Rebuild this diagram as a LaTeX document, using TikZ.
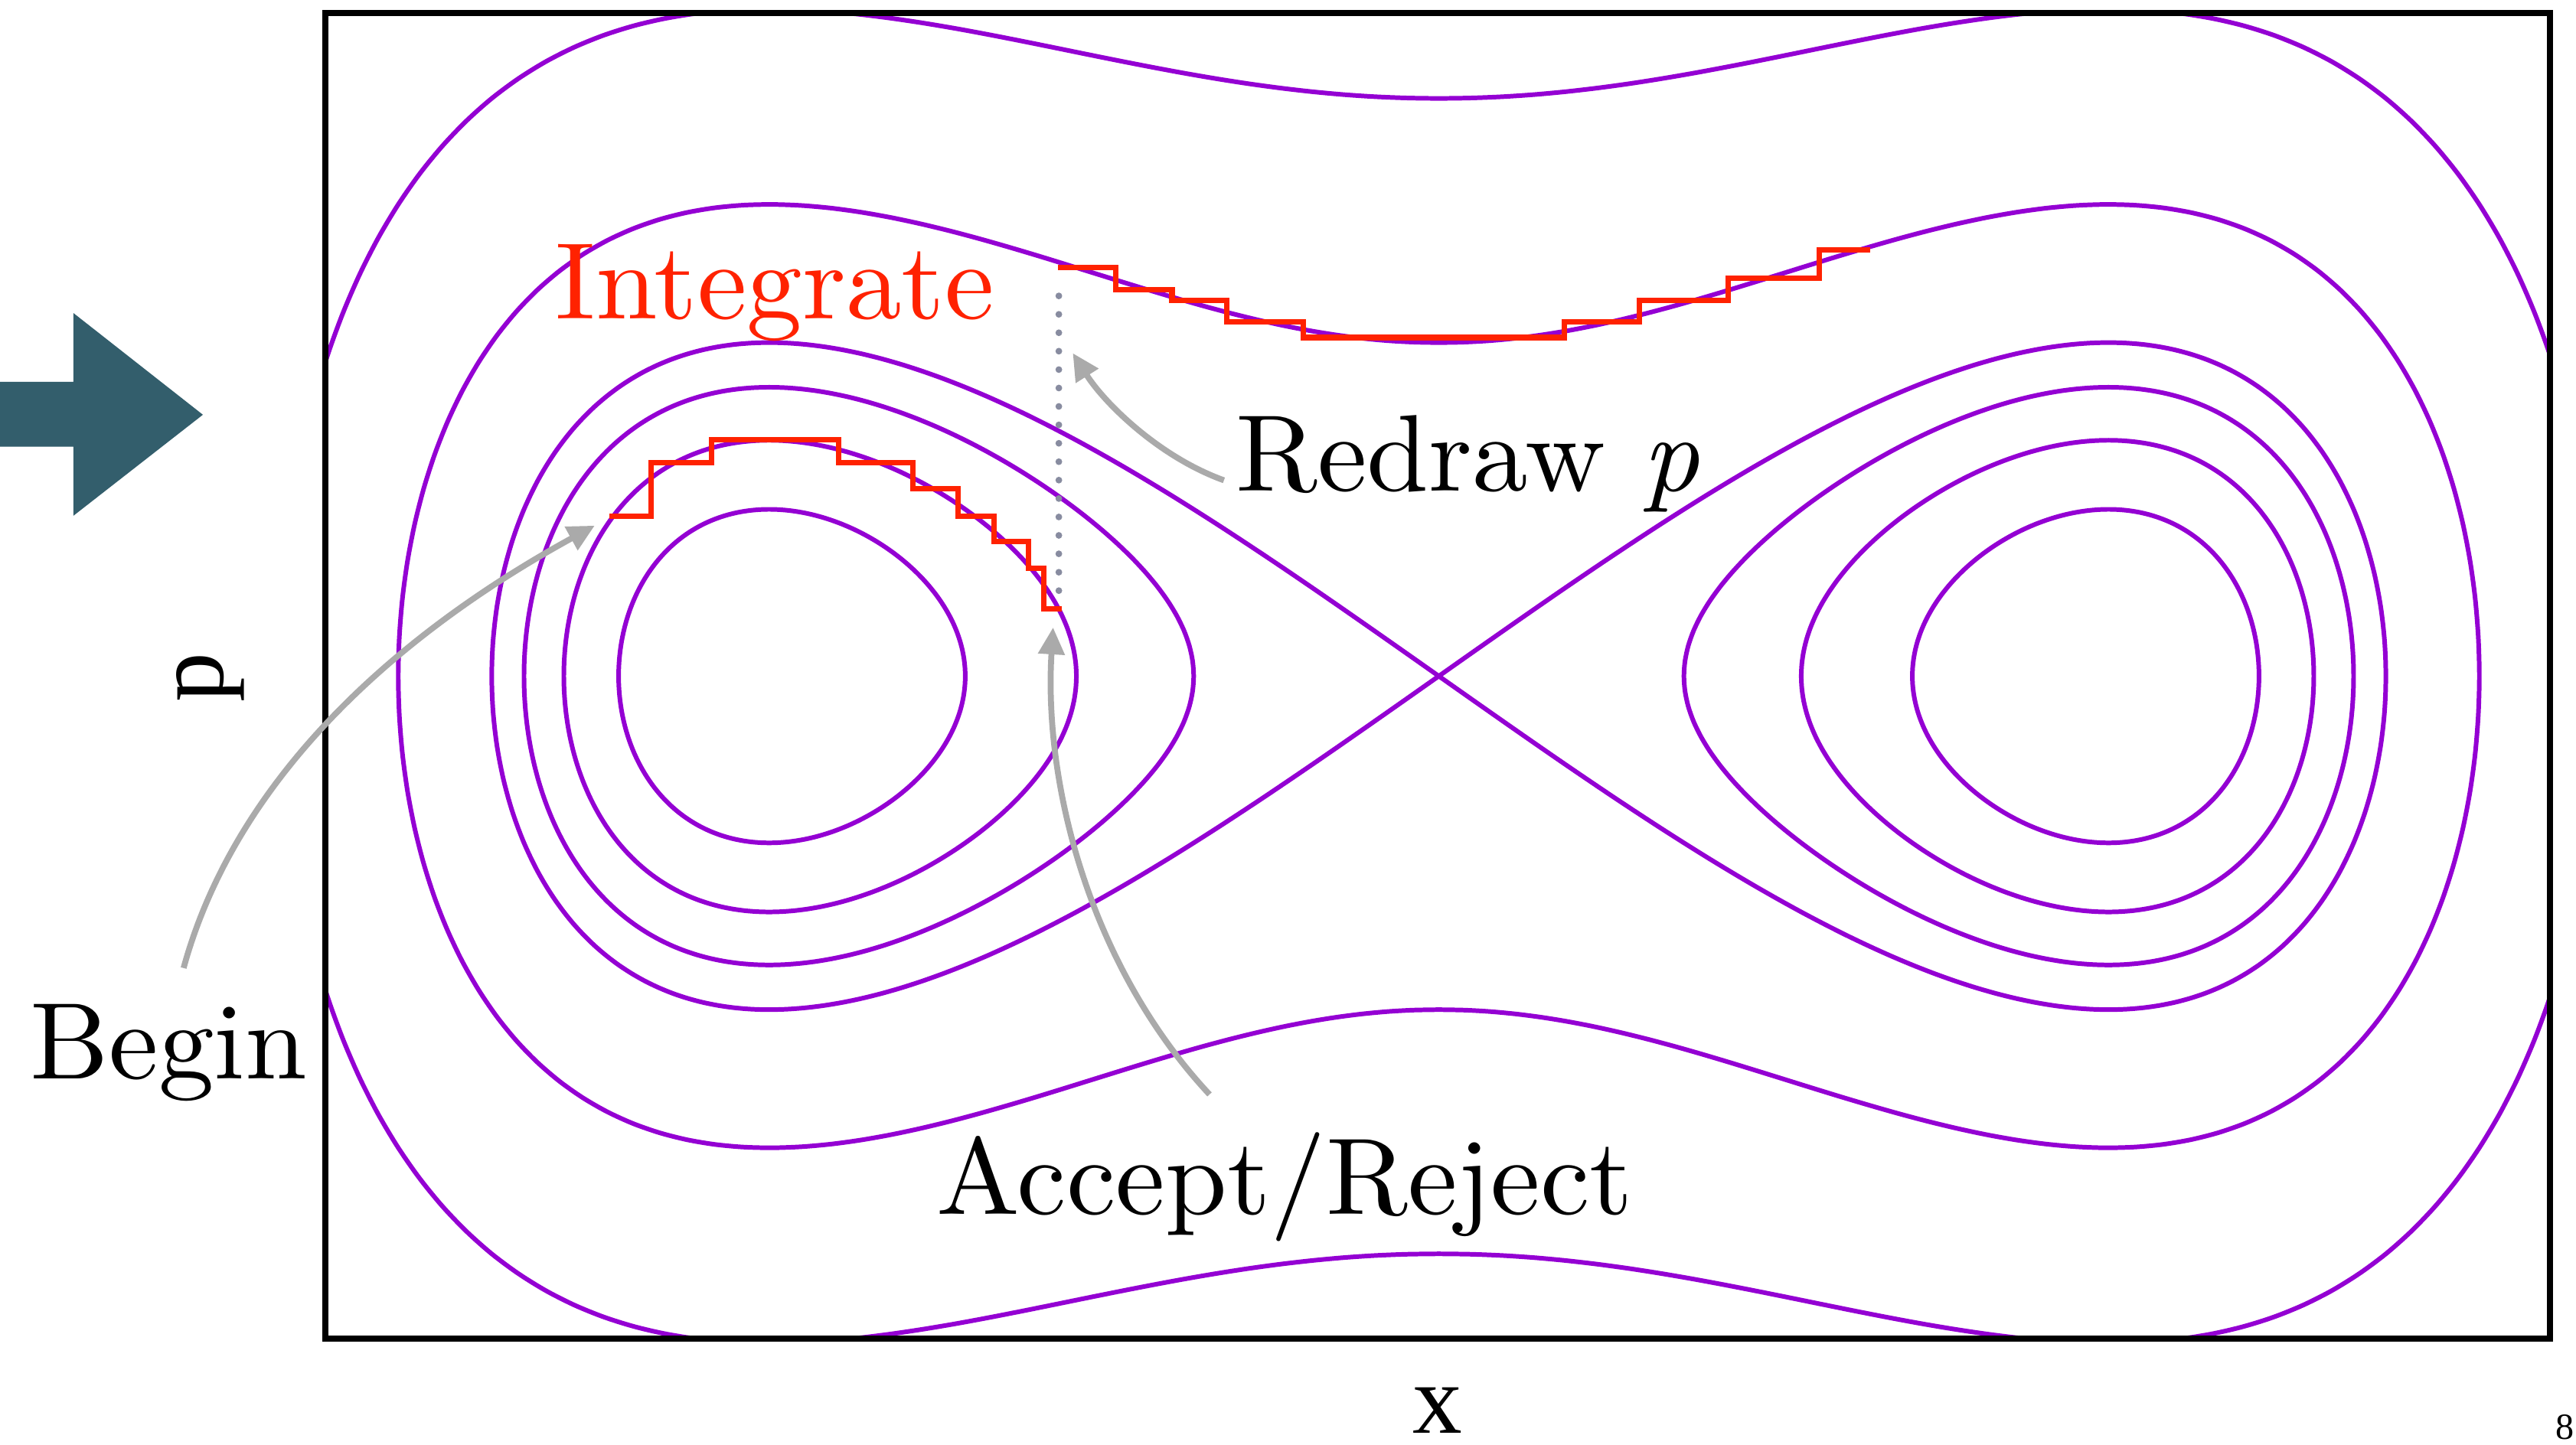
\documentclass[tikz,border=0pt]{standalone}
\usepackage{fontspec}
\newfontfamily\ejesfont{Liberation Serif}
\newfontfamily\rotulofont{lmroman10-regular.otf}[FakeStretch=1.02, ItalicFont=lmroman10-italic.otf]
\usetikzlibrary{arrows.meta, calc}
\definecolor{violeta}{RGB}{148,0,211}
\definecolor{rojo}{RGB}{255,34,0}
\definecolor{petroleo}{RGB}{51,94,108}
\definecolor{gris}{RGB}{170,170,170}
\definecolor{grispuntos}{RGB}{136,140,160}
\tikzset{
    orbita/.style={violeta, line width=1.7pt},
    integracion/.style={rojo, line width=2pt, line join=miter},
    flecha/.style={gris, line width=2.2pt, -{Triangle[length=10pt,width=9.5pt]}},
    rotulo/.style={anchor=base west, inner sep=0pt, font=\rotulofont\fontsize{40.5}{48}\selectfont},
    eje/.style={anchor=base, inner sep=0pt, font=\ejesfont\fontsize{36.8}{44}\selectfont},
}

\begin{document}
\begin{tikzpicture}[x=0.0214605cm, y=-0.0214605cm]
\useasboundingbox (0,0) rectangle (1568,879.3);
% flecha grande
\fill[petroleo] (0,232.5) -- (44.7,232.5) -- (44.7,190.6) -- (123.5,252.5) -- (44.7,314) -- (44.7,272) -- (0,272) -- cycle;
% curvas de nivel
\begin{scope}
\clip (198,8) rectangle (1552,815);
\begin{scope}[shift={(18.7887cm,-8.8310cm)}, x=8.7452cm, y=4.3565cm]
\foreach \rv in {0.5, 0.70711, 0.86603} {
  \draw[orbita] plot[smooth cycle, domain=0:357, samples=120] ({sqrt(1+\rv*cos(\x))}, {\rv*sin(\x)});
  \draw[orbita] plot[smooth cycle, domain=0:357, samples=120] ({-sqrt(1+\rv*cos(\x))}, {\rv*sin(\x)});
}
\draw[orbita] plot[smooth, domain=0:720, samples=241] ({1.41421*cos(\x/2)}, {sin(\x)});
\foreach \rv/\tv in {1.41421/135, 2/120} {
  \draw[orbita] plot[smooth, domain=-90:270, samples=181] ({(cos(\x)<0 ? -1 : 1)*sqrt(abs(1+\rv*cos(\tv*sin(\x))))}, {\rv*sin(\tv*sin(\x))});
}
\end{scope}
\end{scope}
\draw[line width=2.2pt] (198,8) rectangle (1552,815);
% integracion
\draw[integracion] (370.8,314.1) -| (396.4,281.5) -| (433.2,267.8) -| (510.6,281.5) -| (555.5,297.6) -| (583.2,314.1) -| (605.2,329.8) -| (626.0,345.8) -| (635.4,370.5) -- (646.4,370.5);
\draw[integracion] (644.0,162.8) -| (679.2,176.3) -| (713.4,183.0) -| (746.9,195.9) -| (793.3,205.5) -| (952.2,195.9) -| (997.7,182.7) -| (1052.0,169.6) -| (1107.4,152.2) -- (1138.2,152.2);
\draw[grispuntos, line width=2.5pt, line cap=round, dash pattern=on 0pt off 0.2406cm] (644.5,359.6) -- (644.5,169);
% rotulos
\node[rotulo, rojo] (integrate) at (337.8,194.2) {Integrate};
\node[rotulo] (redraw) at (752,299) {Redraw \textit{p}};
\node[rotulo] (begin) at (18.3,657) {Begin};
\node[rotulo] (accept) at (570,739.4) {Accept/Reject};
\node[eje] (xlabel) at (875,872.5) {x};
\node[eje, rotate=90] (plabel) at (135.9,412.4) {p};
\node[anchor=base, inner sep=0pt, font=\ejesfont\fontsize{13.7}{16}\selectfont] (pagina) at (1561.2,876.3) {8};
% flechas
\coordinate (inicio) at (362,320);
\coordinate (rechazo) at (641,382);
\coordinate (momento) at (653,215);
\draw[flecha] ($(begin.north)+(9,-22)$) .. controls (150,450) and (280,365) .. (inicio);
\draw[flecha] ($(accept.north)+(-46,-23)$) .. controls (665,590) and (635,480) .. (rechazo);
\draw[flecha] ($(redraw.west)+(-7,10)$) .. controls (705,278) and (672,245) .. (momento);
\end{tikzpicture}
\end{document}
